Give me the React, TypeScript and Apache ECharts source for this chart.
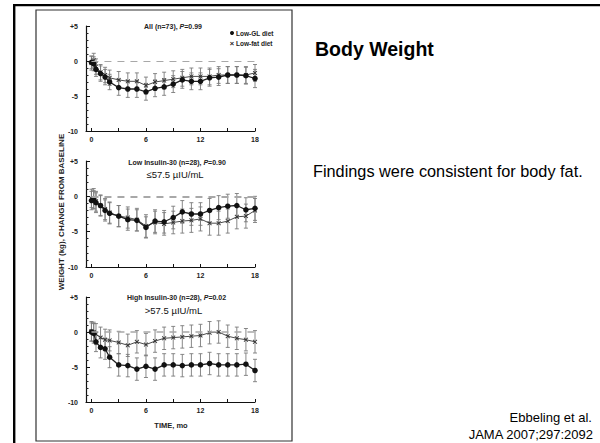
import React, { useEffect, useRef } from "react";
import * as echarts from "echarts";

const times = [0, 0.25, 0.5, 1, 1.5, 2, 3, 4, 5, 6, 7, 8, 9, 10, 11, 12, 13, 14, 15, 16, 17, 18];
const xLabelValues = [0, 6, 12, 18];
const xTickValues = [0, 3, 6, 9, 12, 15, 18];

// Panel 1: All
const allGL = [-0.2, -0.4, -1.2, -1.8, -2.3, -3.0, -3.8, -4.0, -4.0, -4.4, -3.9, -3.7, -3.3, -2.7, -2.9, -2.9, -2.4, -2.3, -2.0, -2.0, -2.1, -2.5];
const allGLErr = [0.9, 1.0, 1.0, 1.1, 1.1, 1.1, 1.1, 1.2, 1.2, 1.2, 1.2, 1.2, 1.2, 1.2, 1.2, 1.2, 1.2, 1.2, 1.2, 1.2, 1.2, 1.3];
const allLF = [-0.3, 0.1, -0.8, -1.6, -2.0, -2.4, -2.7, -2.9, -2.9, -3.5, -3.0, -2.8, -2.6, -2.4, -2.2, -2.2, -2.2, -2.0, -2.0, -2.0, -2.0, -1.7];
const allLFErr = [1.0, 1.0, 1.1, 1.1, 1.1, 1.1, 1.2, 1.2, 1.2, 1.2, 1.2, 1.2, 1.2, 1.2, 1.2, 1.2, 1.2, 1.2, 1.2, 1.2, 1.2, 1.2];

// Panel 2: Low insulin-30
const lowGL = [-0.6, -0.5, -0.9, -1.3, -2.0, -2.4, -2.8, -3.3, -3.4, -4.4, -3.5, -3.6, -3.0, -2.2, -2.5, -2.5, -2.0, -1.6, -1.4, -1.3, -1.9, -1.7];
const lowGLErr = [1.3, 1.3, 1.4, 1.4, 1.5, 1.5, 1.5, 1.5, 1.5, 1.5, 1.6, 1.6, 1.6, 1.6, 1.6, 1.6, 1.7, 1.7, 1.7, 1.7, 1.7, 1.7];
const lowLF = [-0.3, -0.3, -0.7, -1.3, -1.8, -2.3, -2.8, -3.0, -3.3, -4.2, -3.7, -3.9, -3.7, -3.5, -3.4, -3.2, -3.8, -3.8, -3.5, -2.9, -2.8, -2.0];
const lowLFErr = [1.3, 1.4, 1.4, 1.5, 1.5, 1.5, 1.5, 1.5, 1.6, 1.6, 1.6, 1.6, 1.6, 1.7, 1.7, 1.7, 1.7, 1.7, 1.7, 1.7, 1.7, 1.7];

// Panel 3: High insulin-30
const highGL = [0.0, -0.2, -1.4, -2.2, -2.4, -3.6, -4.7, -4.8, -5.3, -4.9, -5.3, -4.7, -4.7, -4.8, -4.7, -4.7, -4.5, -4.7, -4.7, -4.7, -4.6, -5.5];
const highGLErr = [1.3, 1.4, 1.4, 1.5, 1.5, 1.5, 1.6, 1.6, 1.6, 1.6, 1.6, 1.6, 1.6, 1.6, 1.6, 1.6, 1.6, 1.6, 1.6, 1.6, 1.6, 1.6];
const highLF = [0.1, 0.0, -0.3, -0.8, -1.1, -1.2, -1.5, -1.9, -1.4, -1.8, -1.3, -0.9, -0.8, -0.7, -0.6, -0.5, -0.1, 0.0, -0.6, -0.9, -1.1, -1.4];
const highLFErr = [1.4, 1.4, 1.5, 1.5, 1.5, 1.5, 1.6, 1.6, 1.6, 1.6, 1.6, 1.6, 1.6, 1.6, 1.6, 1.6, 1.6, 1.6, 1.6, 1.6, 1.6, 1.6];

const panelTitles = [
  ["All (n=73), ", "P", "=0.99"],
  ["Low Insulin-30 (n=28), ", "P", "=0.90"],
  ["High Insulin-30 (n=28), ", "P", "=0.02"],
];
const panelSubtitles = ["", "≤57.5 µIU/mL", ">57.5 µIU/mL"];
const legendNames = ["Low-GL diet", "Low-fat diet"];

const FONT = "'Liberation Sans', Arial, Helvetica, sans-serif";
const X_SYMBOL = "path://M0,1.4L1.4,0L5,3.6L8.6,0L10,1.4L6.4,5L10,8.6L8.6,10L5,6.4L1.4,10L0,8.6L3.6,5Z";

const panels = [
  { gl: allGL, glErr: allGLErr, lf: allLF, lfErr: allLFErr, top: 26, height: 105, dashW: 1 },
  { gl: lowGL, glErr: lowGLErr, lf: lowLF, lfErr: lowLFErr, top: 161, height: 106, dashW: 2 },
  { gl: highGL, glErr: highGLErr, lf: highLF, lfErr: highLFErr, top: 297, height: 105, dashW: 1.5 },
];

function errorSeries(idx: number, vals: number[], errs: number[]) {
  return {
    type: "custom",
    xAxisIndex: idx,
    yAxisIndex: idx,
    z: 1,
    silent: true,
    data: times.map((t, i) => [t, vals[i] - errs[i], vals[i] + errs[i]]),
    encode: { x: 0, y: [1, 2] },
    renderItem: (params: any, api: any) => {
      const x = api.value(0);
      const lo = api.coord([x, api.value(1)]);
      const hi = api.coord([x, api.value(2)]);
      const w = 2;
      const style = { stroke: "#7a7a7a", lineWidth: 0.9 };
      return {
        type: "group",
        children: [
          { type: "line", shape: { x1: lo[0], y1: lo[1], x2: hi[0], y2: hi[1] }, style },
          { type: "line", shape: { x1: lo[0] - w, y1: lo[1], x2: lo[0] + w, y2: lo[1] }, style },
          { type: "line", shape: { x1: hi[0] - w, y1: hi[1], x2: hi[0] + w, y2: hi[1] }, style },
        ],
      };
    },
  };
}

export default function App() {
  const ref = useRef<HTMLDivElement>(null);
  useEffect(() => {
    if (!ref.current) return;
    const chart = echarts.init(ref.current, null, { renderer: "svg" });

    const grids = panels.map((p) => ({ left: 86, width: 169, top: p.top, height: p.height }));
    const xAxes = panels.map((p, i) => ({
      type: "value",
      gridIndex: i,
      min: -0.6,
      max: 18,
      axisLine: { show: true, onZero: false, lineStyle: { color: "#111", width: 1.2 } },
      axisTick: { show: true, inside: true, length: 3, customValues: xTickValues, lineStyle: { color: "#111" } },
      axisLabel: {
        show: true,
        customValues: xLabelValues,
        margin: 5,
        fontSize: 7,
        fontWeight: "bold",
        fontFamily: FONT,
        color: "#222",
      },
      splitLine: { show: false },
    }));
    const yAxes = panels.map((p, i) => ({
      type: "value",
      gridIndex: i,
      min: -10,
      max: 5,
      interval: 5,
      axisLine: { show: true, onZero: false, lineStyle: { color: "#111", width: 1.2 } },
      axisTick: { show: true, inside: true, length: 4, lineStyle: { color: "#111" } },
      minorTick: { show: true, splitNumber: 5, length: 2.5, lineStyle: { color: "#222" } },
      axisLabel: {
        margin: 8,
        fontSize: 7,
        fontWeight: "bold",
        fontFamily: FONT,
        color: "#222",
        formatter: (v: number) => (v > 0 ? "+" + v : String(v)),
      },
      splitLine: { show: false },
    }));

    const series: any[] = [];
    panels.forEach((p, i) => {
      series.push(errorSeries(i, p.lf, p.lfErr));
      series.push(errorSeries(i, p.gl, p.glErr));
      series.push({
        type: "line",
        name: legendNames[1],
        xAxisIndex: i,
        yAxisIndex: i,
        z: 3,
        data: times.map((t, k) => [t, p.lf[k]]),
        symbol: X_SYMBOL,
        symbolSize: 4.5,
        itemStyle: { color: "#333" },
        lineStyle: { color: "#4a4a4a", width: 1 },
        markLine: {
          silent: true,
          symbol: "none",
          label: { show: false },
          lineStyle: { color: "#a8a8a8", type: [7, 6], width: p.dashW },
          data: [[{ coord: [0, 0] }, { coord: [18, 0] }]],
        },
      });
      series.push({
        type: "line",
        name: legendNames[0],
        xAxisIndex: i,
        yAxisIndex: i,
        z: 4,
        data: times.map((t, k) => [t, p.gl[k]]),
        symbol: "circle",
        symbolSize: 5.5,
        itemStyle: { color: "#111" },
        lineStyle: { color: "#222", width: 1.3 },
      });
    });

    const titleY = [26, 162, 297];
    const titleX = [173, 177, 176.5];
    const subY = [0, 174, 310];
    const subX = [0, 175, 173.5];

    const graphic: any[] = [
      { type: "rect", shape: { x: 13, y: 4, width: 587, height: 2.2 }, style: { fill: "#000" } },
      { type: "rect", shape: { x: 13, y: 4, width: 2.4, height: 439 }, style: { fill: "#000" } },
      { type: "rect", shape: { x: 36, y: 10, width: 256, height: 431 }, style: { fill: "none", stroke: "#333", lineWidth: 1.2 } },
      {
        type: "text",
        x: 61,
        y: 212,
        rotation: Math.PI / 2,
        style: {
          text: "WEIGHT (kg), CHANGE FROM BASELINE",
          font: `bold 8px ${FONT}`,
          fill: "#222",
          align: "center",
          verticalAlign: "middle",
        },
      },
      {
        type: "text",
        x: 171,
        y: 425,
        style: { text: "TIME, mo", font: `bold 7.5px ${FONT}`, fill: "#222", align: "center", verticalAlign: "middle" },
      },
      { type: "circle", shape: { cx: 232, cy: 33, r: 2 }, style: { fill: "#111" } },
      {
        type: "text",
        x: 236,
        y: 33,
        style: { text: legendNames[0], font: `bold 6.5px ${FONT}`, fill: "#222", align: "left", verticalAlign: "middle" },
      },
      {
        type: "text",
        x: 232,
        y: 43,
        style: { text: "×", font: `bold 7.5px ${FONT}`, fill: "#222", align: "center", verticalAlign: "middle" },
      },
      {
        type: "text",
        x: 236,
        y: 43,
        style: { text: legendNames[1], font: `bold 6.5px ${FONT}`, fill: "#222", align: "left", verticalAlign: "middle" },
      },
      {
        type: "text",
        x: 315,
        y: 49,
        style: { text: "Body Weight", font: `bold 19.5px ${FONT}`, fill: "#000", align: "left", verticalAlign: "middle" },
      },
      {
        type: "text",
        x: 313,
        y: 171,
        style: {
          text: "Findings were consistent for body fat.",
          font: `16.3px ${FONT}`,
          fill: "#000",
          align: "left",
          verticalAlign: "middle",
        },
      },
      {
        type: "text",
        x: 592,
        y: 417,
        style: { text: "Ebbeling et al.", font: `13px ${FONT}`, fill: "#000", align: "right", verticalAlign: "middle" },
      },
      {
        type: "text",
        x: 593,
        y: 434,
        style: { text: "JAMA 2007;297:2092", font: `13px ${FONT}`, fill: "#000", align: "right", verticalAlign: "middle" },
      },
    ];
    panelTitles.forEach((t, i) => {
      graphic.push({
        type: "text",
        x: titleX[i],
        y: titleY[i],
        style: {
          text: `{b|${t[0]}}{i|${t[1]}}{b|${t[2]}}`,
          align: "center",
          verticalAlign: "middle",
          rich: {
            b: { font: `bold 7px ${FONT}`, fill: "#222" },
            i: { font: `italic bold 7px ${FONT}`, fill: "#222" },
          },
        },
      });
      if (panelSubtitles[i]) {
        graphic.push({
          type: "text",
          x: subX[i],
          y: subY[i],
          style: { text: panelSubtitles[i], font: `9.5px ${FONT}`, fill: "#111", align: "center", verticalAlign: "middle" },
        });
      }
    });

    chart.setOption({
      animation: false,
      backgroundColor: "#fff",
      grid: grids,
      xAxis: xAxes,
      yAxis: yAxes,
      series,
      graphic,
    });
    return () => chart.dispose();
  }, []);

  return <div ref={ref} style={{ position: "fixed", left: 0, top: 0, width: 600, height: 443 }} />;
}
